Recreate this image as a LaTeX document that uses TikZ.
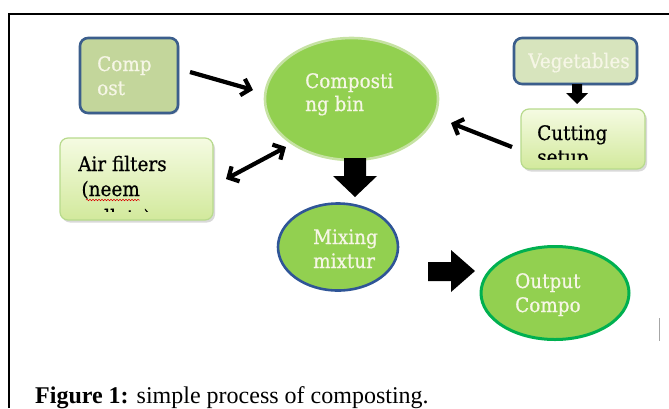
\documentclass[tikz,border=0pt]{standalone}
\usepackage{fontspec}
\setmainfont{Liberation Serif}
\newfontfamily\labelfont[FakeStretch=0.92,FakeBold=0.6]{DejaVu Serif}
\usetikzlibrary{arrows.meta,shadows,decorations.pathmorphing,calc,shapes.geometric}

\definecolor{steeledge}{HTML}{3B5E8C}
\definecolor{olivefill}{HTML}{C3D69B}
\definecolor{palefill}{HTML}{D7E4BD}
\definecolor{limefill}{HTML}{92D050}
\definecolor{limeedge}{HTML}{C6E2A3}
\definecolor{navyedge}{HTML}{2F5597}
\definecolor{greenedge}{HTML}{00B050}
\definecolor{mintedge}{HTML}{B7DA8C}
\definecolor{creamtext}{HTML}{F6F6E6}
\definecolor{gradtop}{HTML}{F5FBE2}
\definecolor{gradbot}{HTML}{D2E99C}

\tikzset{
  darkbox/.style={draw=steeledge, line width=2.6pt, rounded corners=8pt,
    drop shadow={shadow xshift=1.5pt, shadow yshift=-1.5pt, opacity=0.25}},
  lightbox/.style={draw=mintedge, line width=1.2pt, rounded corners=8pt,
    top color=gradtop, bottom color=gradbot,
    drop shadow={shadow xshift=2pt, shadow yshift=-2.5pt, opacity=0.25, fill=black!60}},
  bubble/.style={ellipse, fill=limefill, line width=2.6pt},
  wlabel/.style={font=\labelfont\fontsize{20}{20}\selectfont, text=creamtext,
    inner sep=0pt, anchor=base west},
  blabel/.style={font=\labelfont\fontsize{20}{20}\selectfont, text=black,
    inner sep=0pt, anchor=base west},
  barb/.tip={Straight Barb[length=8pt,width=17pt]},
  linkarrow/.style={line width=4.2pt, black, -barb},
  blockarrow/.style={fill=black, draw=none},
}

\begin{document}
\begin{tikzpicture}[x=1pt,y=-1pt]
\useasboundingbox (0,0) rectangle (669,408);

% outer frame
\draw[line width=1.3pt] (9,408) -- (9,14) -- (669,14);
\draw[black!35, line width=0.8pt] (659,318) -- (659,341);

% boxes
\node[darkbox, fill=olivefill, minimum width=98pt, minimum height=75pt] (compost) at (129,75.5) {};
\node[darkbox, fill=palefill, minimum width=123pt, minimum height=46pt] (veg) at (575.5,61) {};
\node[lightbox, minimum width=124pt, minimum height=60pt] (cut) at (583,139) {};
\node[lightbox, minimum width=153pt, minimum height=82pt] (air) at (136.5,179) {};

% ellipses
\node[bubble, draw=limeedge, minimum width=173pt, minimum height=122pt] (bin) at (351.5,99) {};
\node[bubble, draw=navyedge, minimum width=120pt, minimum height=87pt] (mix) at (338,247) {};
\node[bubble, draw=greenedge, line width=3pt, minimum width=148pt, minimum height=93pt] (out) at (555,293) {};

% labels
\node[wlabel] (compostA) at (97,71) {Comp};
\node[wlabel] (compostB) at (97,95) {ost};
\node[wlabel, anchor=base] (vegA) at (579,68) {Vegetables};
\node[wlabel] (binA) at (305,88) {Composti};
\node[wlabel] (binB) at (305,111) {ng bin};
\node[wlabel] (mixA) at (313,244) {Mixing};
\node[wlabel] (mixB) at (313,268) {mixtur};
\node[wlabel] (outA) at (515,288) {Output};
\node[wlabel] (outB) at (515,312) {Compo};

\node[blabel] (cutA) at (537,140) {Cutting};
\begin{scope}
  \clip (521,100) rectangle (645,159);
  \node[blabel] (cutB) at (537,164) {setup};
\end{scope}

\node[blabel] (airA) at (78,171) {Air filters};
\node[blabel] (airB) at (78,196) {\,(neem};
\begin{scope}
  \clip (60,130) rectangle (213,211);
  \node[blabel] (airC) at (78,224) {\,pellets)};
\end{scope}
\draw[red!85!black, line width=0.5pt,
  decorate, decoration={snake, amplitude=0.8pt, segment length=3pt}]
  ($(airB.base west)+(8,4)$) -- ($(airB.base east)+(0,4)$);

% line connectors
\coordinate (compostOut) at (190,72);
\coordinate (binInL) at (253,90);
\coordinate (cutOut) at (512,147);
\coordinate (binInR) at (451,123);
\coordinate (airOut) at (226,179);
\coordinate (binInA) at (286,147);
\draw[linkarrow] (compostOut) -- (binInL);
\draw[linkarrow] (cutOut) -- (binInR);
\draw[linkarrow, barb-barb] (airOut) -- (binInA);

% block arrows
\fill[blockarrow] (344,158) -- (366,158) -- (366,176) -- (377,176) -- (355,197)
  -- (333,176) -- (344,176) -- cycle;
\fill[blockarrow] (428,262) -- (451,262) -- (451,250) -- (475,271) -- (451,292)
  -- (451,281) -- (428,281) -- cycle;
\fill[blockarrow] (572,84) -- (582,84) -- (582,93) -- (588,93) -- (577,104)
  -- (566,93) -- (572,93) -- cycle;

% caption
\node[inner sep=0pt, anchor=base west, font=\fontsize{24}{24}\selectfont] (caption)
  at (35,403) {\textbf{Figure 1:} simple process of composting.};
\end{tikzpicture}
\end{document}
